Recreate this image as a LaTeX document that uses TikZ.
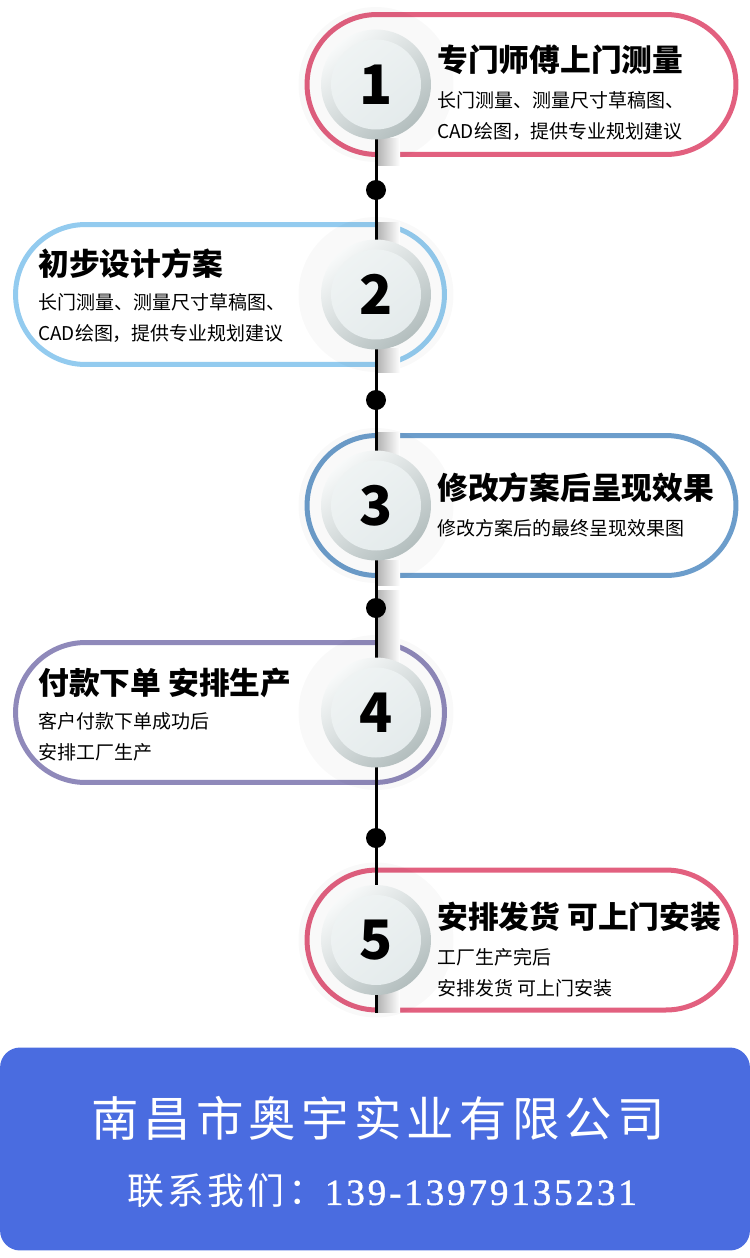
\documentclass[tikz,border=0pt]{standalone}
\usepackage{fontspec}
\setmainfont{Noto Sans CJK SC}
\newfontfamily\footcjk[LetterSpace=11]{Noto Sans CJK SC}
\newfontfamily\phonecjk[LetterSpace=9]{Noto Sans CJK SC}
\newfontfamily\footnum[LetterSpace=8,FakeBold=1.2]{Liberation Serif}
\usetikzlibrary{positioning}
\definecolor{rosered}{HTML}{E2607F}
\definecolor{skyblue}{HTML}{93CBEF}
\definecolor{steelblue}{HTML}{6C9DCB}
\definecolor{lavender}{HTML}{8F89BA}
\definecolor{footblue}{HTML}{4A6CE0}
\definecolor{ringlight}{HTML}{F7F9F9}
\definecolor{ringdark}{HTML}{B3BEBE}
\definecolor{disclight}{HTML}{F0F4F4}
\definecolor{discdark}{HTML}{E3EAEB}

\begin{document}
\begin{tikzpicture}[
          x=0.02cm, y=-0.02cm,
          pill/.style={draw=#1, line width=1mm, fill=white, rounded corners=1.4cm, minimum width=8.58cm, minimum height=2.8cm},
          halo/.style={circle, fill=black, opacity=0.025, minimum size=3.1cm},
          button/.style={circle, inner sep=0pt, minimum size=2.2cm, top color=ringlight, bottom color=ringdark, shading angle=40,
              font=\fontsize{31}{31}\selectfont\bfseries,
              path picture={\shade[top color=disclight, bottom color=discdark, shading angle=40] (path picture bounding box.center) circle (0.9cm);}},
          spine/.style={line width=0.6mm, black},
          dot/.style={circle, fill=black, inner sep=0pt, minimum size=0.4cm},
          title/.style={anchor=west, inner sep=0pt, font=\fontsize{17.5}{20}\selectfont\bfseries},
          sub/.style={anchor=west, inner sep=0pt, align=left, font=\fontsize{10.8}{17.6}\selectfont}
      ]
          \useasboundingbox (0,0) rectangle (750,1258);
          % step boxes
          \node[pill=rosered] (box1) at (521.5,84.5) {};
          \node[pill=skyblue] (box2) at (230,294.5) {};
          \node[pill=steelblue] (box3) at (521.5,505.5) {};
          \node[pill=lavender] (box4) at (230,712.5) {};
          \node[pill=rosered] (box5) at (521.5,940) {};
          \foreach \i/\y in {1/84.5, 2/294.5, 3/505.5, 4/712.5, 5/940} {
              \coordinate (c\i) at (376,\y);
              \node[halo] at (c\i) {};
          }
          % spine with shadows
          \foreach \ya/\yb in {138/165, 222/245, 348/372, 432/455, 560/585, 590/662, 990/1012} {
              \shade[left color=black!30, right color=white] (377,\ya) rectangle (400,\yb);
          }
          \draw[spine] (c1) -- (box5.south -| c5);
          \node[dot] (d1) at (376,190) {};
          \node[dot] (d2) at (376,400) {};
          \node[dot] (d3) at (376,608) {};
          \node[dot] (d4) at (376,838) {};
          \foreach \i in {1,...,5} {
              \node[button] (n\i) at (c\i) {\i};
          }
          % texts
          \node[title] (t1) at (437,60) {专门师傅上门测量};
          \node[sub] (s1) at (437,116) {长门测量、测量尺寸草稿图、\\CAD绘图，提供专业规划建议};
          \node[title] (t2) at (38,264) {初步设计方案};
          \node[sub] (s2) at (38,318) {长门测量、测量尺寸草稿图、\\CAD绘图，提供专业规划建议};
          \node[title] (t3) at (437,488) {修改方案后呈现效果};
          \node[sub] (s3) at (437,528) {修改方案后的最终呈现效果图};
          \node[title] (t4) at (38,683) {付款下单 安排生产};
          \node[sub] (s4) at (38,737) {客户付款下单成功后\\安排工厂生产};
          \node[title] (t5) at (437,917) {安排发货 可上门安装};
          \node[sub] (s5) at (437,973) {工厂生产完后\\安排发货 可上门安装};
          % footer
          \node[fill=footblue, rounded corners=0.4cm, minimum width=15cm, minimum height=4.06cm, inner sep=0pt] (footer) at (375,1149) {};
          \node[white, font=\footcjk\fontsize{27}{32}\selectfont] (company) at (378,1118) {南昌市奥宇实业有限公司};
          \node[white, font=\phonecjk\fontsize{21}{25}\selectfont] (phone) at (382,1191) {联系我们：{\footnum 139-13979135231}};
      \end{tikzpicture}
\end{document}
